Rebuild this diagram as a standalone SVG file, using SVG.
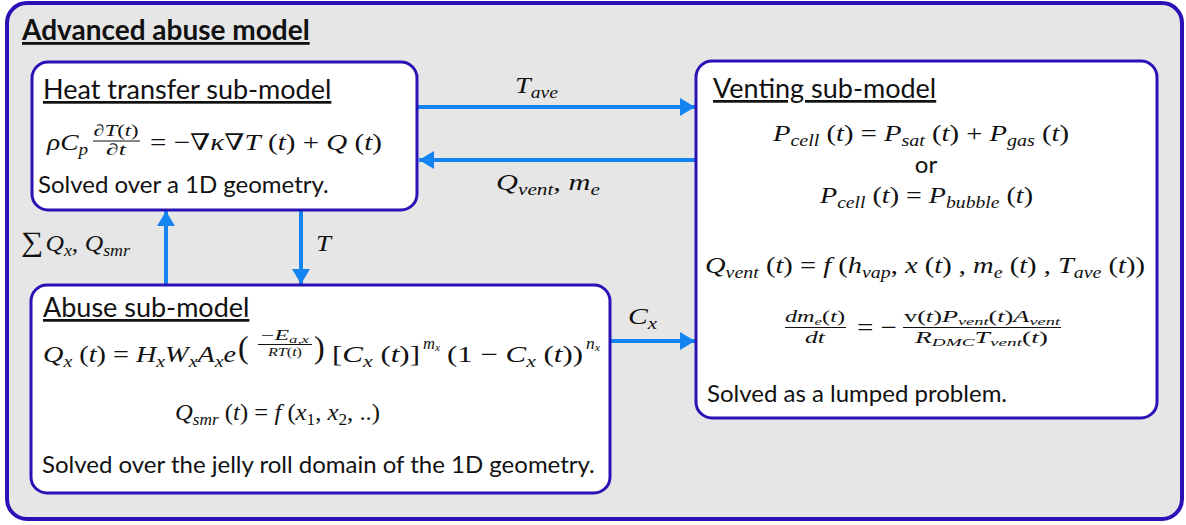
<svg xmlns="http://www.w3.org/2000/svg" width="1186" height="525" viewBox="0 0 1186 525">
<style>
.box{fill:#ffffff;stroke:#2a12b6;stroke-width:3}
.outer{fill:#e6e6e6;stroke:#2a12b6;stroke-width:4}
.conn{stroke:#1484f0;stroke-width:4;fill:none}
.sans{font-family:"Lato","Open Sans","Liberation Sans",sans-serif;fill:#111}
.ttl{font-size:27px;text-decoration:underline}
.body{font-size:24px}
.m{font-family:"Liberation Serif","DejaVu Serif",serif;fill:#111}
.i{font-style:italic}
.s{font-size:0.7em}
.fl{stroke:#111;stroke-width:1.2}
</style>
<defs>
<marker id="ah" markerUnits="userSpaceOnUse" markerWidth="16" markerHeight="18" refX="15" refY="9" orient="auto">
<path d="M0,0 L15,9 L0,18 z" fill="#1484f0"/>
</marker>
</defs>
<rect width="1186" height="525" fill="#ffffff"/>
<g id="outer">
<rect class="outer" x="7" y="3" width="1175" height="516" rx="20"/>
<text class="sans" x="22" y="40" font-size="28" font-weight="bold" text-decoration="underline">Advanced abuse model</text>
</g>
<g id="connectors">
<line class="conn" x1="418" y1="107" x2="695" y2="107" marker-end="url(#ah)"/>
<line class="conn" x1="696" y1="160" x2="419" y2="160" marker-end="url(#ah)"/>
<line class="conn" x1="166" y1="285" x2="166" y2="211" marker-end="url(#ah)"/>
<line class="conn" x1="301" y1="210" x2="301" y2="284" marker-end="url(#ah)"/>
<line class="conn" x1="610" y1="341" x2="695" y2="341" marker-end="url(#ah)"/>
<text class="m" font-size="23" x="515" y="93" textLength="43" lengthAdjust="spacingAndGlyphs"><tspan class="i">T</tspan><tspan class="i s" dy="5">ave</tspan></text>
<text class="m" font-size="23" x="496" y="190" textLength="104" lengthAdjust="spacingAndGlyphs"><tspan class="i">Q</tspan><tspan class="i s" dy="5">vent</tspan><tspan dy="-5">, </tspan><tspan class="i">m</tspan><tspan class="i s" dy="5">e</tspan></text>
<text class="m" font-size="23" x="21" y="251" textLength="109" lengthAdjust="spacingAndGlyphs"><tspan font-size="28">∑</tspan><tspan class="i" dx="2">Q</tspan><tspan class="i s" dy="5">x</tspan><tspan dy="-5">, </tspan><tspan class="i">Q</tspan><tspan class="i s" dy="5">smr</tspan></text>
<text class="m i" font-size="24" x="316" y="251" textLength="15" lengthAdjust="spacingAndGlyphs">T</text>
<text class="m" font-size="23" x="628" y="324" textLength="29" lengthAdjust="spacingAndGlyphs"><tspan class="i">C</tspan><tspan class="i s" dy="5">x</tspan></text>
</g>
<g id="heat">
<rect class="box" x="32" y="62" width="385" height="148" rx="16"/>
<text class="sans ttl" x="43" y="99">Heat transfer sub-model</text>
<text class="m" font-size="23" x="47" y="150" textLength="41" lengthAdjust="spacingAndGlyphs"><tspan class="i">ρC</tspan><tspan class="i s" dy="5">p</tspan></text>
<text class="m" font-size="16" x="116" y="136" text-anchor="middle" textLength="45" lengthAdjust="spacingAndGlyphs"><tspan class="i">∂T</tspan>(<tspan class="i">t</tspan>)</text>
<line class="fl" x1="93" y1="141" x2="140" y2="141"/>
<text class="m" font-size="16" x="116" y="155" text-anchor="middle" textLength="20" lengthAdjust="spacingAndGlyphs">∂<tspan class="i">t</tspan></text>
<text class="m" font-size="23" x="150" y="150" textLength="232" lengthAdjust="spacingAndGlyphs">= −∇<tspan class="i">κ</tspan>∇<tspan class="i">T</tspan> (<tspan class="i">t</tspan>) + <tspan class="i">Q</tspan> (<tspan class="i">t</tspan>)</text>
<text class="sans body" x="38" y="193">Solved over a 1D geometry.</text>
</g>
<g id="venting">
<rect class="box" x="696" y="61" width="461" height="357" rx="16"/>
<text class="sans ttl" x="713" y="98">Venting sub-model</text>
<text class="m" font-size="23" x="773" y="141" textLength="296" lengthAdjust="spacingAndGlyphs"><tspan class="i">P</tspan><tspan class="i s" dy="5">cell</tspan><tspan dy="-5"> (</tspan><tspan class="i">t</tspan>) = <tspan class="i">P</tspan><tspan class="i s" dy="5">sat</tspan><tspan dy="-5"> (</tspan><tspan class="i">t</tspan>) + <tspan class="i">P</tspan><tspan class="i s" dy="5">gas</tspan><tspan dy="-5"> (</tspan><tspan class="i">t</tspan>)</text>
<text class="sans body" x="926" y="173" text-anchor="middle">or</text>
<text class="m" font-size="23" x="820" y="203" textLength="213" lengthAdjust="spacingAndGlyphs"><tspan class="i">P</tspan><tspan class="i s" dy="5">cell</tspan><tspan dy="-5"> (</tspan><tspan class="i">t</tspan>) = <tspan class="i">P</tspan><tspan class="i s" dy="5">bubble</tspan><tspan dy="-5"> (</tspan><tspan class="i">t</tspan>)</text>
<text class="m" font-size="23" x="705" y="273" textLength="440" lengthAdjust="spacingAndGlyphs"><tspan class="i">Q</tspan><tspan class="i s" dy="5">vent</tspan><tspan dy="-5"> (</tspan><tspan class="i">t</tspan>) = <tspan class="i">f</tspan> (<tspan class="i">h</tspan><tspan class="i s" dy="5">vap</tspan><tspan dy="-5">, </tspan><tspan class="i">x</tspan> (<tspan class="i">t</tspan>) , <tspan class="i">m</tspan><tspan class="i s" dy="5">e</tspan><tspan dy="-5"> (</tspan><tspan class="i">t</tspan>) , <tspan class="i">T</tspan><tspan class="i s" dy="5">ave</tspan><tspan dy="-5"> (</tspan><tspan class="i">t</tspan>))</text>
<text class="m" font-size="16" x="785" y="322" textLength="60" lengthAdjust="spacingAndGlyphs"><tspan class="i">dm</tspan><tspan class="i s" dy="3">e</tspan><tspan dy="-3">(</tspan><tspan class="i">t</tspan>)</text>
<line class="fl" x1="785" y1="327.5" x2="846" y2="327.5"/>
<text class="m" font-size="16" x="815" y="343" text-anchor="middle" textLength="20" lengthAdjust="spacingAndGlyphs"><tspan class="i">dt</tspan></text>
<text class="m" font-size="23" x="857" y="335" textLength="40" lengthAdjust="spacingAndGlyphs">= −</text>
<text class="m" font-size="16" x="904" y="322" textLength="156" lengthAdjust="spacingAndGlyphs">v(<tspan class="i">t</tspan>)<tspan class="i">P</tspan><tspan class="i s" dy="3">vent</tspan><tspan dy="-3">(</tspan><tspan class="i">t</tspan>)<tspan class="i">A</tspan><tspan class="i s" dy="3">vent</tspan></text>
<line class="fl" x1="903" y1="327.5" x2="1061" y2="327.5"/>
<text class="m" font-size="16" x="915" y="343" textLength="133" lengthAdjust="spacingAndGlyphs"><tspan class="i">R</tspan><tspan class="i s" dy="3">DMC</tspan><tspan class="i" dy="-3">T</tspan><tspan class="i s" dy="3">vent</tspan><tspan dy="-3">(</tspan><tspan class="i">t</tspan>)</text>
<text class="sans body" x="707" y="402">Solved as a lumped problem.</text>
</g>
<g id="abuse">
<rect class="box" x="31" y="285" width="579" height="208" rx="16"/>
<text class="sans ttl" x="43" y="317">Abuse sub-model</text>
<text class="m" font-size="23" x="43" y="362" textLength="193" lengthAdjust="spacingAndGlyphs"><tspan class="i">Q</tspan><tspan class="i s" dy="5">x</tspan><tspan dy="-5"> (</tspan><tspan class="i">t</tspan>) = <tspan class="i">H</tspan><tspan class="i s" dy="5">x</tspan><tspan class="i" dy="-5">W</tspan><tspan class="i s" dy="5">x</tspan><tspan class="i" dy="-5">A</tspan><tspan class="i s" dy="5">x</tspan><tspan class="i" dy="-5">e</tspan></text>
<text class="m" font-size="32" x="238" y="358">(</text>
<text class="m" font-size="14" x="285" y="340" text-anchor="middle" textLength="48" lengthAdjust="spacingAndGlyphs">−<tspan class="i">E</tspan><tspan class="i s" dy="3">a,x</tspan></text>
<line class="fl" x1="258" y1="344.5" x2="312" y2="344.5"/>
<text class="m" font-size="13" x="285" y="356" text-anchor="middle" textLength="34" lengthAdjust="spacingAndGlyphs"><tspan class="i">RT</tspan>(<tspan class="i">t</tspan>)</text>
<text class="m" font-size="32" x="314" y="358">)</text>
<text class="m" font-size="23" x="332" y="362" textLength="88" lengthAdjust="spacingAndGlyphs">[<tspan class="i">C</tspan><tspan class="i s" dy="5">x</tspan><tspan dy="-5"> (</tspan><tspan class="i">t</tspan>)]</text>
<text class="m i" font-size="16" x="423" y="349" textLength="17" lengthAdjust="spacingAndGlyphs">m<tspan font-size="11" dy="2">x</tspan></text>
<text class="m" font-size="23" x="447" y="362" textLength="136" lengthAdjust="spacingAndGlyphs">(1 − <tspan class="i">C</tspan><tspan class="i s" dy="5">x</tspan><tspan dy="-5"> (</tspan><tspan class="i">t</tspan>))</text>
<text class="m i" font-size="16" x="586" y="349" textLength="14" lengthAdjust="spacingAndGlyphs">n<tspan font-size="11" dy="2">x</tspan></text>
<text class="m" font-size="23" x="175" y="420" textLength="205" lengthAdjust="spacingAndGlyphs"><tspan class="i">Q</tspan><tspan class="i s" dy="5">smr</tspan><tspan dy="-5"> (</tspan><tspan class="i">t</tspan>) = <tspan class="i">f</tspan> (<tspan class="i">x</tspan><tspan class="s" dy="5">1</tspan><tspan dy="-5">, </tspan><tspan class="i">x</tspan><tspan class="s" dy="5">2</tspan><tspan dy="-5">, ..)</tspan></text>
<text class="sans body" x="42" y="473">Solved over the jelly roll domain of the 1D geometry.</text>
</g>
</svg>
